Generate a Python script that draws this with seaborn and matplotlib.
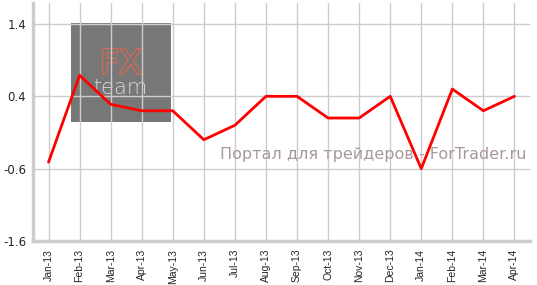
import matplotlib
matplotlib.use("Agg")
import matplotlib.pyplot as plt
import matplotlib.patches as mpatches
import matplotlib.patheffects as pe
import seaborn as sns
import pandas as pd

months = ["Jan-13", "Feb-13", "Mar-13", "Apr-13", "May-13", "Jun-13", "Jul-13", "Aug-13",
          "Sep-13", "Oct-13", "Nov-13", "Dec-13", "Jan-14", "Feb-14", "Mar-14", "Apr-14"]
values = [-0.51, 0.69, 0.29, 0.2, 0.2, -0.2, 0.0, 0.4, 0.4, 0.1, 0.1, 0.4, -0.6, 0.5, 0.2, 0.4]
yticks = [1.4, 0.4, -0.6, -1.6]

df = pd.DataFrame({"x": range(len(months)), "month": months, "value": values})

sns.set_style("white")
plt.rcParams["font.family"] = ["DejaVu Sans"]

W, H = 537, 285
fig = plt.figure(figsize=(W / 100, H / 100), dpi=100)
ax = fig.add_axes([33 / W, 1 - 241 / H, (530 - 33) / W, (241 - 3) / H])

# watermark box (behind grid and line)
ax.add_patch(mpatches.Rectangle((71 / W, 1 - 122 / H), 100 / W, 99 / H,
                                transform=fig.transFigure, facecolor="#777777",
                                edgecolor="none", zorder=0.1, clip_on=False))
ax.text(121 / W, 1 - 64 / H, "FX", color="#777777", fontsize=24, ha="center", va="center",
        transform=fig.transFigure, zorder=0.2,
        path_effects=[pe.withStroke(linewidth=2, foreground="#d06a55")])
ax.text(121 / W, 1 - 88 / H, "team", color="#d8d8d8", fontsize=15, ha="center", va="center",
        transform=fig.transFigure, zorder=0.2, fontweight="light")

sns.lineplot(data=df, x="x", y="value", ax=ax, color="#ff0000", linewidth=2, zorder=5)

ax.set_xlim(-0.5, 15.5)
ax.set_ylim(-1.6, 1.69)
ax.set_xticks(range(len(months)))
ax.set_xticklabels(months, rotation=90, fontsize=7.5, family="Liberation Sans")
ax.set_yticks(yticks)
ax.set_yticklabels([f"{v:.1f}" for v in yticks], fontsize=8.5)
ax.set_xlabel("")
ax.set_ylabel("")
ax.grid(True, color="#cccccc", linewidth=1, zorder=0.5)
ax.set_axisbelow(True)
for s in ["top", "right"]:
    ax.spines[s].set_visible(False)
for s in ["left", "bottom"]:
    ax.spines[s].set_color("#cccccc")
    ax.spines[s].set_linewidth(2.5)
ax.tick_params(axis="x", length=4, color="#cccccc", pad=1.5)
ax.tick_params(axis="y", length=3, color="#cccccc", pad=2)

fig.text(527 / W, 1 - 155 / H, "Портал для трейдеров - ForTrader.ru", color="#a89898",
         fontsize=11.5, ha="right", va="center", zorder=1)

fig.savefig("out.png", dpi=100)
